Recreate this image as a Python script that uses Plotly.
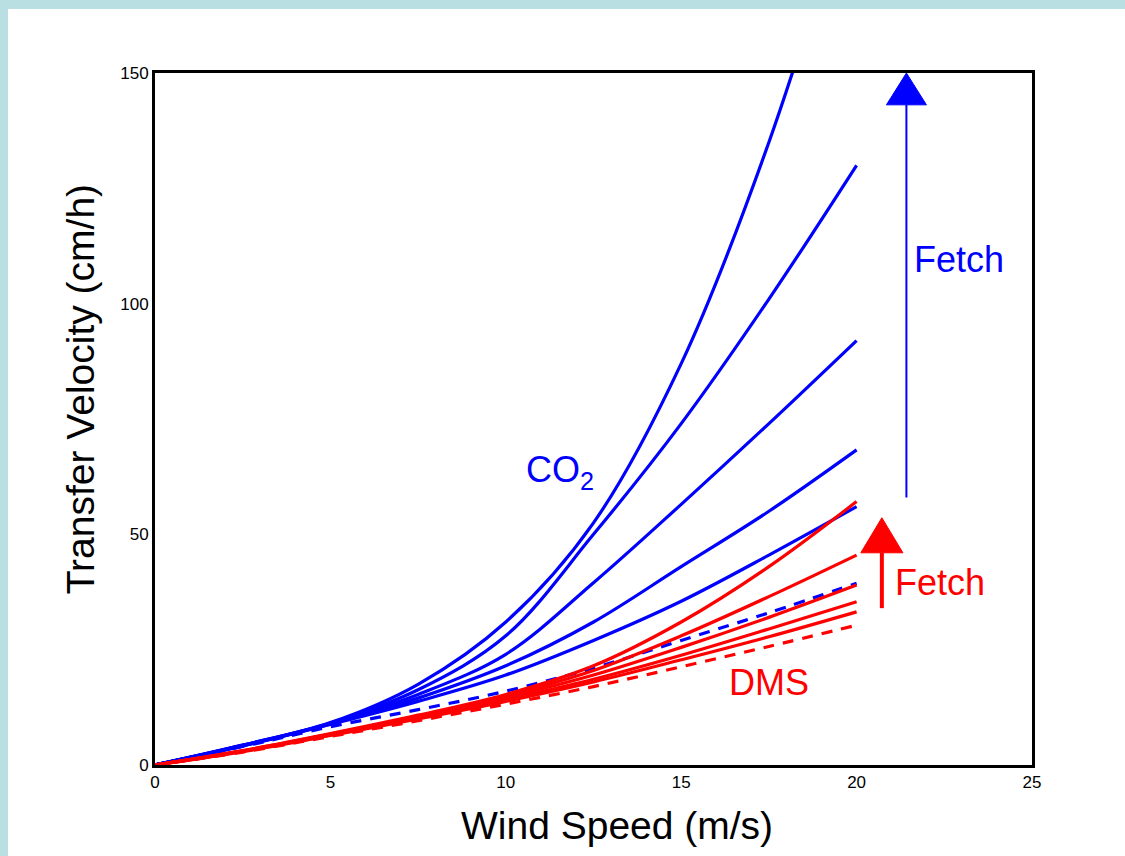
import plotly.graph_objects as go

# ---- data ----
wind = [0, 2.5, 5, 7.5, 10, 12.5, 15, 17.5, 20]

co2_1 = [0, 4.3, 9.2, 17.5, 31.0, 52.5, 87.0, 135.0, 195.0]
co2_2 = [0, 4.3, 9.1, 16.3, 28.0, 50.0, 74.0, 101.0, 130.0]
co2_3 = [0, 4.2, 9.0, 15.3, 24.0, 39.5, 56.5, 74.0, 92.0]
co2_4 = [0, 4.2, 8.9, 14.5, 21.5, 31.0, 43.0, 55.0, 68.3]
co2_5 = [0, 4.1, 8.8, 13.8, 19.5, 27.0, 35.5, 45.5, 56.0]
co2_dash = [0, 4.0, 8.3, 12.0, 16.0, 21.0, 27.0, 33.0, 39.4]

dms_1 = [0, 3.1, 6.8, 10.8, 15.3, 21.5, 31.0, 43.0, 57.1]
dms_2 = [0, 3.1, 6.7, 10.6, 15.0, 20.5, 28.0, 36.5, 45.5]
dms_3 = [0, 3.0, 6.6, 10.4, 14.6, 19.5, 25.5, 32.0, 39.0]
dms_4 = [0, 3.0, 6.5, 10.2, 14.2, 18.6, 23.8, 29.5, 35.4]
dms_5 = [0, 2.9, 6.4, 10.0, 13.8, 18.0, 22.8, 27.8, 33.2]
dms_dash = [0, 2.8, 6.2, 9.6, 13.2, 17.0, 21.3, 25.7, 30.3]

# fetch arrows: x position, start value, arrowhead base, arrowhead tip, head half-width
blue_arrow = dict(x=21.42, start=58.0, base=143.1, tip=150.0, half=0.57)
red_arrow = dict(x=20.72, start=34.0, base=46.0, tip=53.6, half=0.60)

x_ticks = [0, 5, 10, 15, 20, 25]
y_ticks = [0, 50, 100, 150]

x_title = "Wind Speed (m/s)"
y_title = "Transfer Velocity (cm/h)"

BLUE = "#0000ff"
RED = "#ff0000"
FONT = "Liberation Sans, Arial, sans-serif"
BG = "#badfe3"

fig = go.Figure()

for ys in [co2_1, co2_2, co2_3, co2_4, co2_5]:
    fig.add_trace(go.Scatter(x=wind, y=ys, mode="lines", line=dict(color=BLUE, width=3.2, shape="spline"),
                             showlegend=False, hoverinfo="skip"))
fig.add_trace(go.Scatter(x=wind, y=co2_dash, mode="lines",
                         line=dict(color=BLUE, width=3.2, shape="spline", dash="11px,9px"),
                         showlegend=False, hoverinfo="skip"))
for ys in [dms_1, dms_2, dms_3, dms_4, dms_5]:
    fig.add_trace(go.Scatter(x=wind, y=ys, mode="lines", line=dict(color=RED, width=3.2, shape="spline"),
                             showlegend=False, hoverinfo="skip"))
fig.add_trace(go.Scatter(x=wind, y=dms_dash, mode="lines",
                         line=dict(color=RED, width=3.2, shape="spline", dash="11px,9px"),
                         showlegend=False, hoverinfo="skip"))


def add_arrow(a, color, lw):
    fig.add_trace(go.Scatter(x=[a["x"], a["x"]], y=[a["start"], a["base"]], mode="lines",
                             line=dict(color=color, width=lw), showlegend=False, hoverinfo="skip"))
    fig.add_trace(go.Scatter(x=[a["x"] - a["half"], a["x"] + a["half"], a["x"], a["x"] - a["half"]],
                             y=[a["base"], a["base"], a["tip"], a["base"]], mode="lines", fill="toself",
                             fillcolor=color, line=dict(color=color, width=1),
                             showlegend=False, hoverinfo="skip"))


add_arrow(blue_arrow, BLUE, 2)
add_arrow(red_arrow, RED, 4)

annots = [
    dict(x=11.55, y=63.5, text="CO<sub>2</sub>", color=BLUE, xanchor="center"),
    dict(x=17.5, y=17.8, text="DMS", color=RED, xanchor="center"),
    dict(x=21.58, y=109.5, text="Fetch", color=BLUE, xanchor="left"),
    dict(x=21.05, y=39.5, text="Fetch", color=RED, xanchor="left"),
]
for an in annots:
    fig.add_annotation(x=an["x"], y=an["y"], text=an["text"], showarrow=False, xanchor=an["xanchor"],
                       yanchor="middle", font=dict(family=FONT, size=36, color=an["color"]))

# axis titles (offset from the axis centres as in the reference)
fig.add_annotation(xref="paper", yref="paper", x=0.527, y=-0.088, text=x_title, showarrow=False,
                   xanchor="center", yanchor="middle", font=dict(family=FONT, size=39, color="black"))
fig.add_annotation(xref="paper", yref="paper", x=-0.0855, y=0.543, text=y_title, showarrow=False,
                   textangle=-90, xanchor="center", yanchor="middle",
                   font=dict(family=FONT, size=39, color="black"))

W, H = 877.0, 692.0
fig.add_shape(type="rect", xref="paper", yref="paper",
              x0=(8 - 155) / W, x1=(1125 - 155) / W + 0.05,
              y0=(765 - 856) / H - 0.05, y1=(765 - 9) / H,
              fillcolor="white", line=dict(width=0), layer="below")

fig.update_layout(
    width=1125, height=856,
    margin=dict(l=155, r=93, t=73, b=91),
    paper_bgcolor=BG,
    plot_bgcolor="white",
    font=dict(family=FONT, color="black"),
    xaxis=dict(range=[0, 25], tickvals=x_ticks, ticktext=[str(v) for v in x_ticks],
               showgrid=False, zeroline=False, showline=True, mirror=True, linecolor="black", linewidth=3,
               ticks="", tickfont=dict(size=17, family=FONT)),
    yaxis=dict(range=[0, 150], tickvals=y_ticks, ticktext=[str(v) for v in y_ticks],
               showgrid=False, zeroline=False, showline=True, mirror=True, linecolor="black", linewidth=3,
               ticks="", tickfont=dict(size=17, family=FONT)),
)

fig.write_html("out.html", config={"displayModeBar": False},
               post_script="document.body.style.margin='0';document.body.style.background='white';")
